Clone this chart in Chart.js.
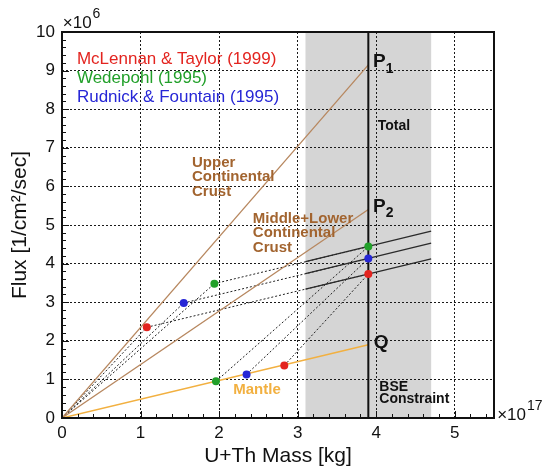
<!DOCTYPE html>
<html>
<head>
<meta charset="utf-8">
<script src="https://cdn.jsdelivr.net/npm/chart.js@4.4.0/dist/chart.umd.min.js"></script>
<style>
html, body { margin: 0; padding: 0; background: #fff; }
#wrap { width: 546px; height: 470px; }
</style>
</head>
<body>
<div id="wrap"><canvas id="fluxChart" width="546" height="470"></canvas></div>
<script>
// Mass in units of 1e17 kg, flux in units of 1e6 /cm2/sec
const modelNames = ['McLennan & Taylor (1999)', 'Wedepohl (1995)', 'Rudnick & Fountain (1995)'];
const modelColors = ['#e3241f', '#22a02a', '#2626d6'];

const crustMass = [1.08, 1.94, 1.55];
const crustFlux = [2.35, 3.48, 2.98];
const mantleMass = [2.83, 1.96, 2.35];
const mantleFlux = [1.36, 0.95, 1.13];
const totalMass = [3.9, 3.9, 3.9];
const totalFlux = [3.73, 4.44, 4.13];

// solid segments across the BSE band
const bandFluxLeft = [3.34, 4.05, 3.74];
const bandFluxRight = [4.12, 4.84, 4.53];

const bseRange = [3.1, 4.7];
const bseMass = 3.9;
const upperCrustFlux = 9.15;   // P1
const lowerCrustFlux = 5.4;    // P2
const mantleTotalFlux = 1.9;   // Q

const xTicks = [0, 1, 2, 3, 4, 5];
const yTicks = [0, 1, 2, 3, 4, 5, 6, 7, 8, 9, 10];
const xMin = 0, xMax = 5.5;
const yMin = 0, yMax = 10;

const FONT = '"Liberation Sans", Arial, Helvetica, sans-serif';
const BROWN_LINE = '#b7875f';
const BROWN_TEXT = '#a2642f';
const ORANGE = '#f2b040';
const DASH = '#222';

function seg(points, color, width, dash) {
    return {
        data: points,
        showLine: true,
        borderColor: color,
        borderWidth: width,
        borderDash: dash || [],
        pointRadius: 0,
        fill: false
    };
}

// built bottom layer first, reversed at the end (Chart.js draws dataset 0 on top)
const datasets = [];

// dashed construction lines (parallelograms)
modelNames.forEach((name, i) => {
    datasets.push(seg([{x: 0, y: 0}, {x: crustMass[i], y: crustFlux[i]}], DASH, 1, [2, 2]));
    datasets.push(seg([{x: crustMass[i], y: crustFlux[i]}, {x: totalMass[i], y: totalFlux[i]}], DASH, 1, [2, 2]));
    datasets.push(seg([{x: mantleMass[i], y: mantleFlux[i]}, {x: totalMass[i], y: totalFlux[i]}], DASH, 1, [2, 2]));
});

// crust and mantle reference lines
datasets.push(seg([{x: 0, y: 0}, {x: bseMass, y: upperCrustFlux}], BROWN_LINE, 1.3));
datasets.push(seg([{x: 0, y: 0}, {x: bseMass, y: lowerCrustFlux}], BROWN_LINE, 1.3));
datasets.push(seg([{x: 0, y: 0}, {x: bseMass, y: mantleTotalFlux}], ORANGE, 1.5));

// solid lines inside the band
modelNames.forEach((name, i) => {
    datasets.push(seg([{x: bseRange[0], y: bandFluxLeft[i]}, {x: bseRange[1], y: bandFluxRight[i]}], '#2a2a2a', 1.3));
});

// total line
datasets.push(seg([{x: bseMass, y: yMin}, {x: bseMass, y: yMax}], '#111', 2));

// model points
modelNames.forEach((name, i) => {
    datasets.push({
        label: name,
        data: [
            {x: crustMass[i], y: crustFlux[i]},
            {x: mantleMass[i], y: mantleFlux[i]},
            {x: totalMass[i], y: totalFlux[i]}
        ],
        showLine: false,
        pointRadius: 4,
        pointBackgroundColor: modelColors[i],
        pointBorderColor: modelColors[i],
        pointBorderWidth: 0
    });
});
datasets.reverse();

// text placed at data coordinates
const annotations = [
    {text: modelNames[0], x: 0.19, y: 9.30, color: modelColors[0], font: '17px ' + FONT},
    {text: modelNames[1], x: 0.19, y: 8.81, color: modelColors[1], font: '17px ' + FONT},
    {text: modelNames[2], x: 0.19, y: 8.32, color: modelColors[2], font: '17px ' + FONT},
    {text: 'Upper', x: 1.655, y: 6.61, color: BROWN_TEXT, font: 'bold 15px ' + FONT},
    {text: 'Continental', x: 1.655, y: 6.24, color: BROWN_TEXT, font: 'bold 15px ' + FONT},
    {text: 'Crust', x: 1.655, y: 5.86, color: BROWN_TEXT, font: 'bold 15px ' + FONT},
    {text: 'Middle+Lower', x: 2.43, y: 5.16, color: BROWN_TEXT, font: 'bold 15px ' + FONT},
    {text: 'Continental', x: 2.43, y: 4.79, color: BROWN_TEXT, font: 'bold 15px ' + FONT},
    {text: 'Crust', x: 2.43, y: 4.41, color: BROWN_TEXT, font: 'bold 15px ' + FONT},
    {text: 'Mantle', x: 2.18, y: 0.73, color: ORANGE, font: 'bold 15px ' + FONT},
    {text: 'Total', x: 4.02, y: 7.55, color: '#111', font: 'bold 14px ' + FONT},
    {text: 'BSE', x: 4.04, y: 0.81, color: '#111', font: 'bold 14px ' + FONT},
    {text: 'Constraint', x: 4.04, y: 0.50, color: '#111', font: 'bold 14px ' + FONT},
    {text: 'P', sub: '1', x: 3.96, y: 9.22, color: '#111', font: 'bold 19px ' + FONT},
    {text: 'P', sub: '2', x: 3.96, y: 5.47, color: '#111', font: 'bold 19px ' + FONT},
    {text: 'Q', x: 3.97, y: 1.95, color: '#111', font: 'bold 19px ' + FONT},
    {text: '\u00d710', sup: '6', x: 0.01, y: 10.23, color: '#111', font: '17px ' + FONT},
    {text: '\u00d710', sup: '17', x: 5.54, y: 0.08, color: '#111', font: '17px ' + FONT}
];

const framePlugin = {
    id: 'frame',
    beforeDraw(chart) {
        const {ctx, chartArea, scales: {x}} = chart;
        const x0 = x.getPixelForValue(bseRange[0]);
        const x1 = x.getPixelForValue(bseRange[1]);
        ctx.save();
        ctx.fillStyle = '#d5d5d5';
        ctx.fillRect(x0, chartArea.top, x1 - x0, chartArea.bottom - chartArea.top);
        ctx.restore();
    },
    afterDraw(chart) {
        const {ctx, chartArea, scales: {x, y}} = chart;
        ctx.save();
        ctx.strokeStyle = '#111';
        ctx.lineWidth = 1;
        // inward ticks on bottom and left
        ctx.beginPath();
        for (let k = 0; k <= 27; k++) {
            const px = Math.round(x.getPixelForValue(k * 0.2)) + 0.5;
            const len = k % 5 === 0 ? 7 : 4;
            ctx.moveTo(px, chartArea.bottom);
            ctx.lineTo(px, chartArea.bottom - len);
        }
        for (let k = 0; k <= 50; k++) {
            const py = Math.round(y.getPixelForValue(k * 0.2)) + 0.5;
            const len = k % 5 === 0 ? 7 : 4;
            ctx.moveTo(chartArea.left, py);
            ctx.lineTo(chartArea.left + len, py);
        }
        ctx.stroke();
        // frame
        ctx.lineWidth = 2;
        ctx.strokeRect(chartArea.left, chartArea.top, chartArea.right - chartArea.left, chartArea.bottom - chartArea.top);

        // labels
        ctx.textBaseline = 'middle';
        ctx.textAlign = 'left';
        annotations.forEach(a => {
            const px = x.getPixelForValue(a.x);
            const py = y.getPixelForValue(a.y);
            ctx.font = a.font;
            ctx.fillStyle = a.color;
            ctx.fillText(a.text, px, py);
            const w = ctx.measureText(a.text).width;
            const size = parseFloat(a.font.match(/(\d+)px/)[1]);
            if (a.sub) {
                ctx.font = a.font.replace(/\d+px/, Math.round(size * 0.75) + 'px');
                ctx.fillText(a.sub, px + w, py + size * 0.35);
            }
            if (a.sup) {
                ctx.font = a.font.replace(/\d+px/, Math.round(size * 0.8) + 'px');
                ctx.fillText(a.sup, px + w + 1, py - size * 0.5);
            }
        });
        ctx.restore();
    }
};

const ctx = document.getElementById('fluxChart').getContext('2d');
new Chart(ctx, {
    type: 'scatter',
    data: { datasets: datasets },
    options: {
        responsive: false,
        animation: false,
        devicePixelRatio: 1,
        layout: { padding: { top: 32, right: 52, left: 0, bottom: 0 } },
        plugins: {
            legend: { display: false },
            tooltip: { enabled: false }
        },
        scales: {
            x: {
                type: 'linear',
                min: xMin,
                max: xMax,
                afterFit(scale) { scale.height = 52; },
                afterBuildTicks(scale) { scale.ticks = xTicks.map(v => ({value: v})); },
                ticks: {
                    padding: 5,
                    color: '#111',
                    font: { family: FONT, size: 17 }
                },
                grid: {
                    drawTicks: false,
                    lineWidth: 1,
                    color: c => (c.tick && c.tick.value > xMin) ? '#1a1a1a' : 'rgba(0,0,0,0)'
                },
                border: { display: false, dash: [2, 2] },
                title: {
                    display: true,
                    text: 'U+Th Mass [kg]',
                    color: '#111',
                    font: { family: FONT, size: 21 },
                    padding: { top: 0, bottom: 1 }
                }
            },
            y: {
                type: 'linear',
                min: yMin,
                max: yMax,
                afterFit(scale) { scale.width = 62; },
                afterBuildTicks(scale) { scale.ticks = yTicks.map(v => ({value: v})); },
                ticks: {
                    padding: 7,
                    color: '#111',
                    font: { family: FONT, size: 17 }
                },
                grid: {
                    drawTicks: false,
                    lineWidth: 1,
                    color: c => (c.tick && c.tick.value > yMin && c.tick.value < yMax) ? '#1a1a1a' : 'rgba(0,0,0,0)'
                },
                border: { display: false, dash: [2, 2] },
                title: {
                    display: true,
                    text: 'Flux [1/cm\u00b2/sec]',
                    color: '#111',
                    font: { family: FONT, size: 21 },
                    padding: { top: 8, bottom: 0 }
                }
            }
        }
    },
    plugins: [framePlugin]
});
</script>
</body>
</html>
